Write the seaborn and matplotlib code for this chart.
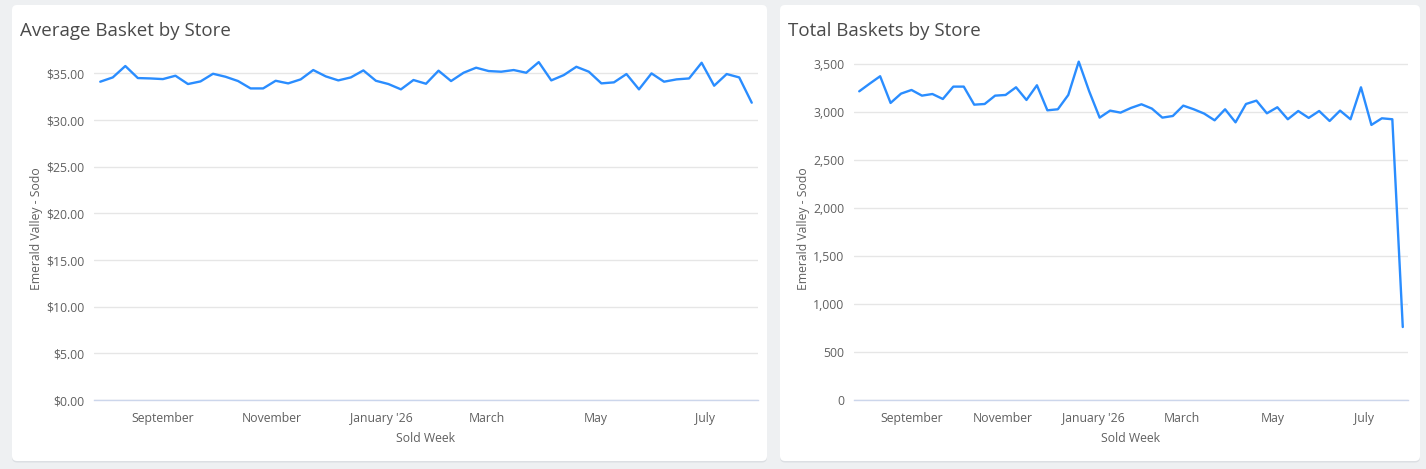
import pandas as pd
import matplotlib.pyplot as plt
import matplotlib.dates as mdates
from matplotlib.patches import FancyBboxPatch
from matplotlib.ticker import FuncFormatter, FixedLocator
import seaborn as sns

# Weekly data, week starting Monday 28 Jul 2025 (53 weeks)
weeks = pd.date_range('2025-07-28', periods=53, freq='7D')

avg_basket = [34.11, 34.57, 35.79, 34.50, 34.46, 34.39, 34.75, 33.86, 34.14, 34.96,
              34.64, 34.18, 33.39, 33.39, 34.21, 33.93, 34.36, 35.36, 34.68, 34.25,
              34.57, 35.32, 34.21, 33.86, 33.29, 34.29, 33.89, 35.29, 34.18, 35.07,
              35.61, 35.25, 35.18, 35.36, 35.07, 36.21, 34.25, 34.82, 35.71, 35.18,
              33.93, 34.04, 34.93, 33.29, 35.00, 34.11, 34.36, 34.46, 36.14, 33.68,
              34.93, 34.57, 31.86]

total_baskets = [3215, 3295, 3372, 3094, 3191, 3229, 3170, 3187, 3135, 3264,
                 3264, 3076, 3083, 3170, 3177, 3257, 3125, 3278, 3017, 3028,
                 3177, 3524, 3215, 2941, 3014, 2993, 3042, 3080, 3035, 2941,
                 2958, 3066, 3028, 2983, 2913, 3028, 2892, 3083, 3118, 2986,
                 3049, 2924, 3010, 2938, 3010, 2906, 3014, 2924, 3257, 2865,
                 2934, 2924, 760]

tick_dates = ['2025-09-01', '2025-11-01', '2026-01-01', '2026-03-01', '2026-05-01', '2026-07-01']
tick_labels = ['September', 'November', "January '26", 'March', 'May', 'July']

df = pd.DataFrame({'week': weeks, 'avg': avg_basket, 'total': total_baskets})

sns.set_theme(style='white')
plt.rcParams['font.family'] = ['Open Sans', 'DejaVu Sans']

W, H = 1426, 469
fig = plt.figure(figsize=(W / 100, H / 100), dpi=100)
fig.patch.set_facecolor('#eef0f2')


def box(x0, y0, x1, y1):
    # pixel box (top-left origin) -> figure fraction rect
    return [x0 / W, 1 - y1 / H, (x1 - x0) / W, (y1 - y0) / H]


# white cards
for (x0, y0, x1, y1) in [(12, 5, 767, 461), (780, 5, 1420, 461)]:
    shadow = FancyBboxPatch(((x0) / 100, (H - y1 - 1.5) / 100), (x1 - x0) / 100, (y1 - y0) / 100,
                            boxstyle='round,pad=0,rounding_size=0.05',
                            transform=fig.dpi_scale_trans, facecolor='#dcdfe3',
                            edgecolor='none', zorder=0)
    card = FancyBboxPatch((x0 / 100, (H - y1) / 100), (x1 - x0) / 100, (y1 - y0) / 100,
                          boxstyle='round,pad=0,rounding_size=0.05',
                          transform=fig.dpi_scale_trans, facecolor='white',
                          edgecolor='none', zorder=0)
    fig.add_artist(shadow)
    fig.add_artist(card)

line_color = '#2a8dff'
text_color = '#606060'
half_week = pd.Timedelta(days=3.5)

panels = [
    dict(col='avg', rect=box(94, 58, 758, 400), ymax=36.65, step=5, top=35,
         fmt=lambda v, p: f'${v:,.2f}', title='Average Basket by Store', tx=20),
    dict(col='total', rect=box(854, 58, 1408, 400), ymax=3562, step=500, top=3500,
         fmt=lambda v, p: f'{v:,.0f}', title='Total Baskets by Store', tx=788),
]

for p in panels:
    ax = fig.add_axes(p['rect'])
    ax.set_facecolor('none')
    sns.lineplot(data=df, x='week', y=p['col'], ax=ax, color=line_color, linewidth=1.7)
    ax.set_xlim(weeks[0] - half_week, weeks[-1] + half_week)
    ax.set_ylim(0, p['ymax'])
    ax.yaxis.set_major_locator(FixedLocator(list(range(0, p['top'] + 1, p['step']))))
    ax.yaxis.set_major_formatter(FuncFormatter(p['fmt']))
    ax.xaxis.set_major_locator(FixedLocator([mdates.date2num(pd.Timestamp(d)) for d in tick_dates]))
    ax.set_xticklabels(tick_labels)
    ax.grid(axis='y', color='#e6e6e6', linewidth=1)
    ax.grid(axis='x', visible=False)
    for s in ['top', 'right', 'left']:
        ax.spines[s].set_visible(False)
    ax.spines['bottom'].set_color('#ccd6eb')
    ax.spines['bottom'].set_linewidth(1)
    ax.tick_params(axis='both', length=0, labelsize=8.8, labelcolor=text_color)
    ax.tick_params(axis='x', pad=8.5)
    ax.tick_params(axis='y', pad=7)
    ax.set_xlabel('Sold Week', fontsize=8.8, color=text_color, labelpad=5)
    ax.set_ylabel('Emerald Valley - Sodo', fontsize=8.8, color=text_color, labelpad=2.5)
    fig.text(p['tx'] / W, 1 - 36 / H, p['title'], fontsize=13.5, color='#4a4a4a', va='baseline')

fig.savefig('out.png', dpi=100, facecolor=fig.get_facecolor())
